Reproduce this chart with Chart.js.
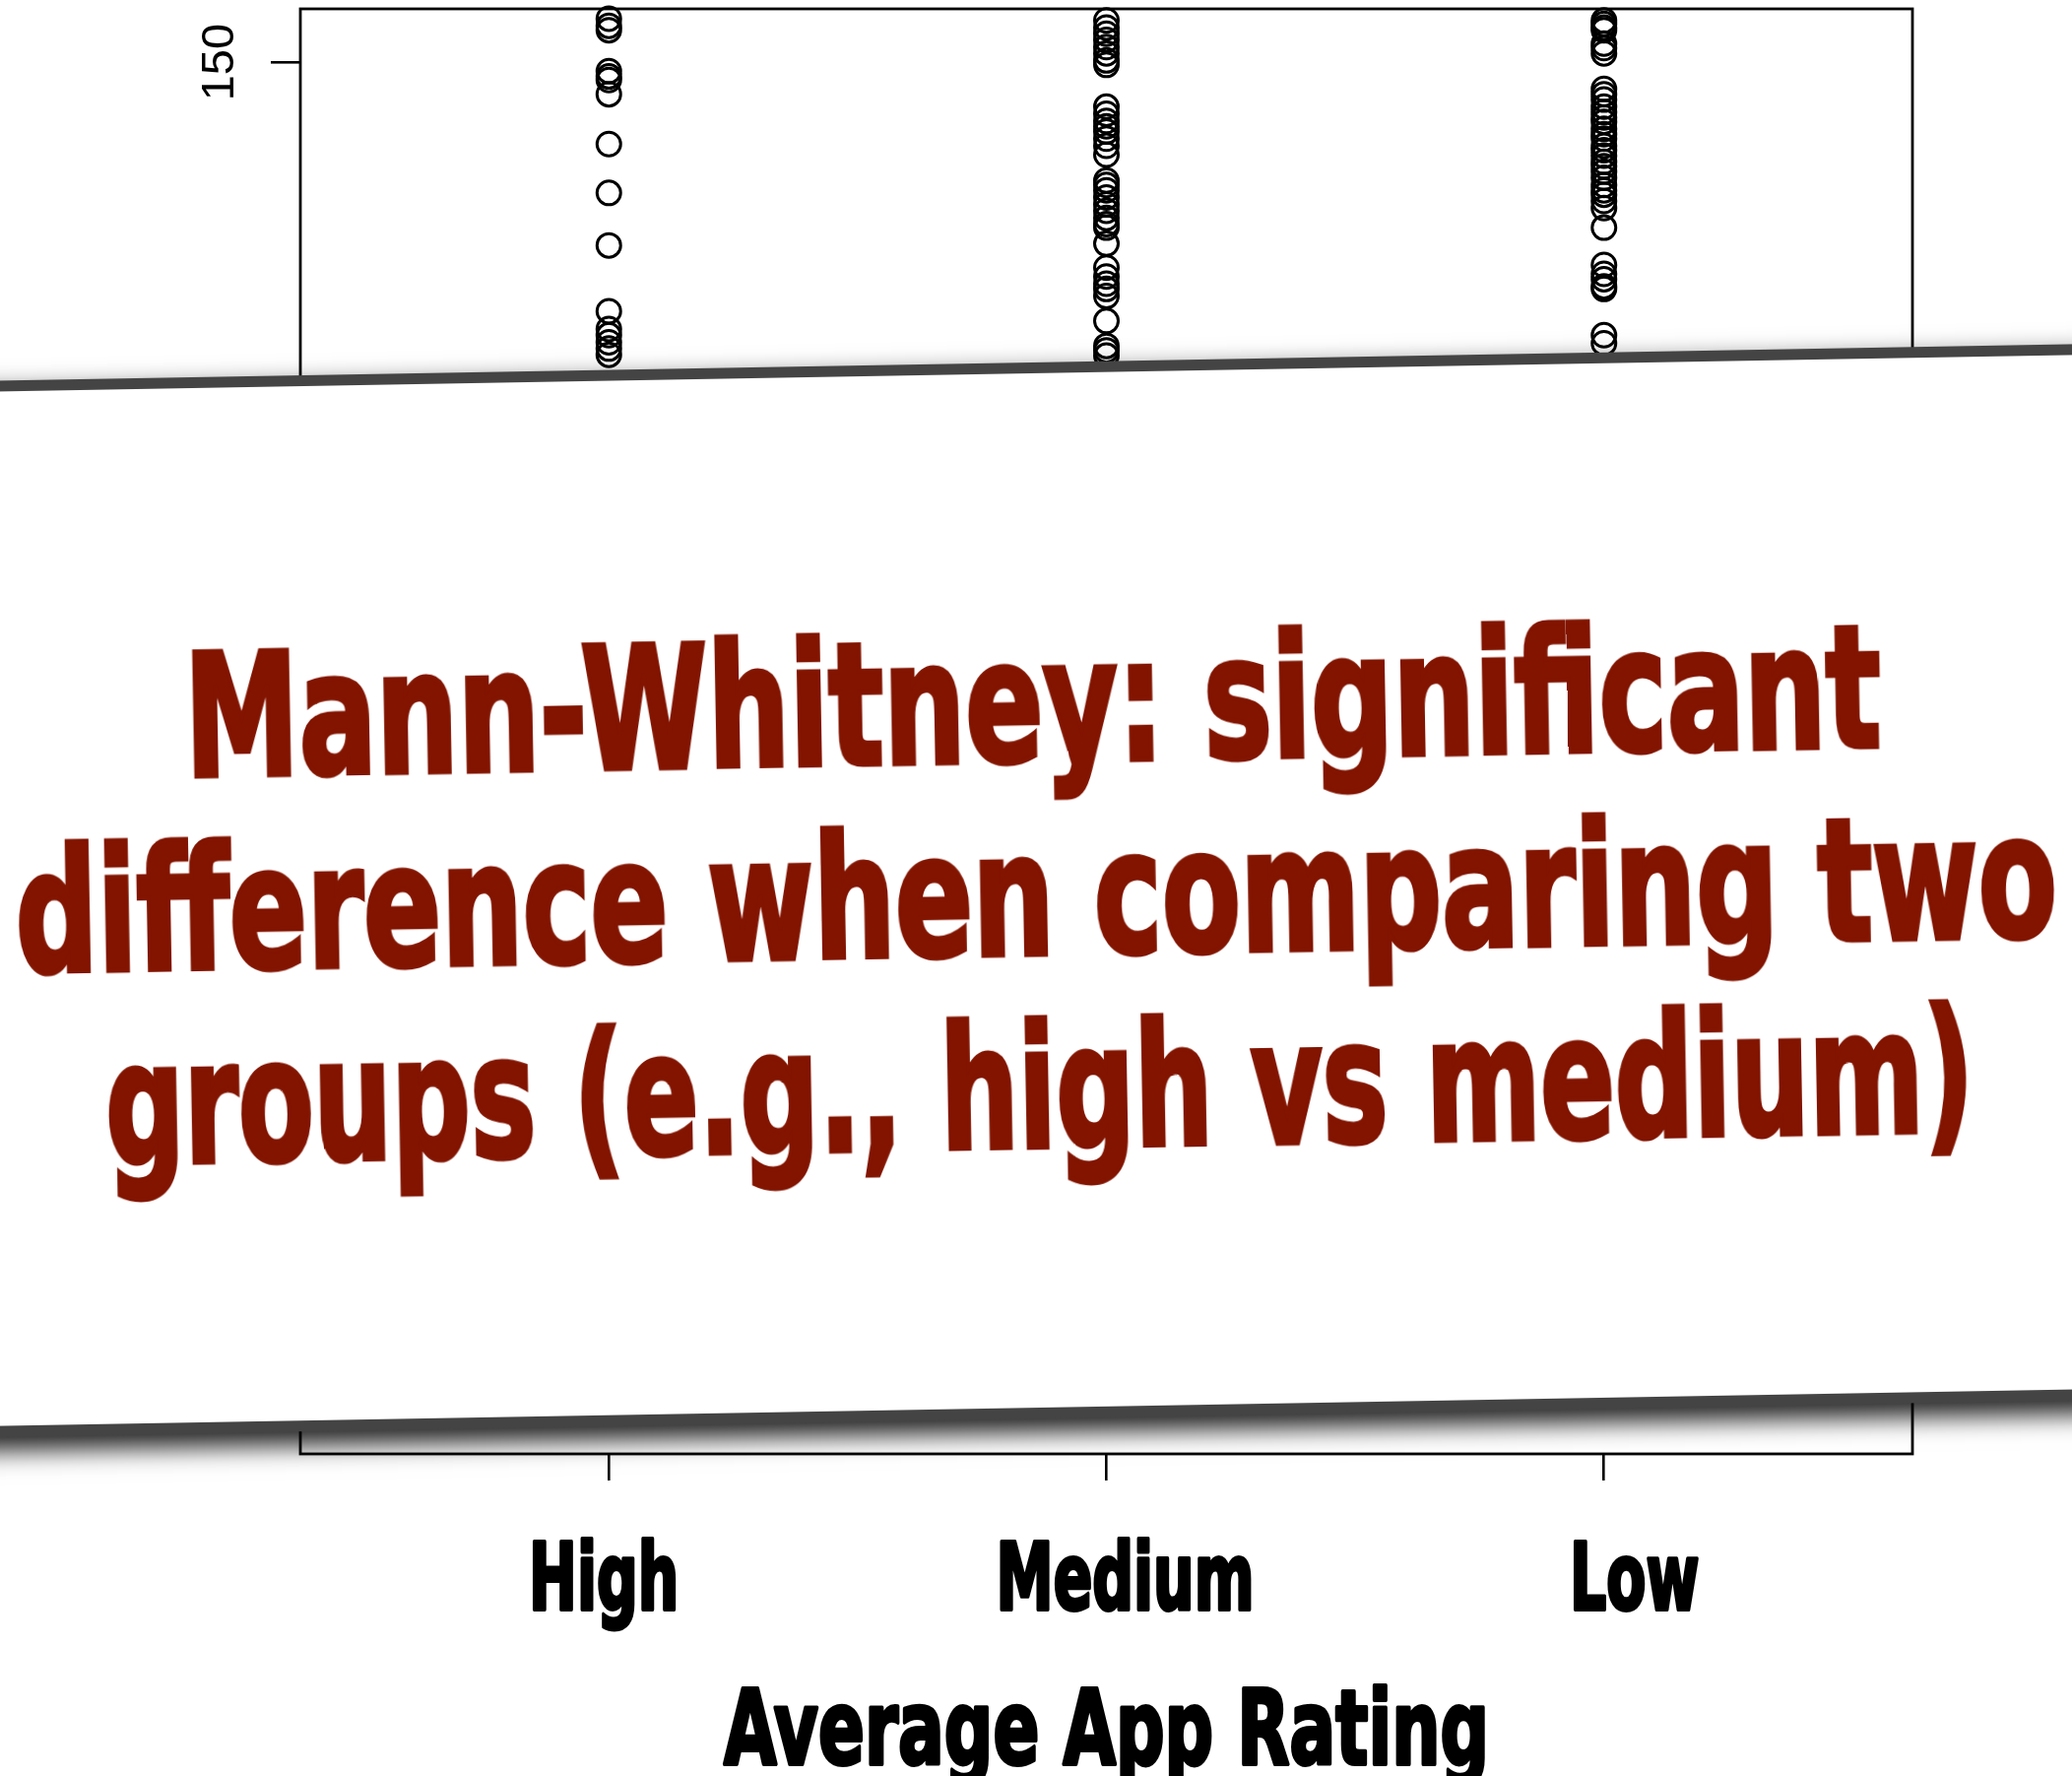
<!DOCTYPE html>
<html>
<head>
<meta charset="utf-8">
<script src="https://cdn.jsdelivr.net/npm/chart.js@4.4.1/dist/chart.umd.min.js"></script>
<style>
  html, body { margin: 0; padding: 0; overflow: hidden; background: #fff; }
  #wrap { position: relative; width: 2104px; height: 1803px; overflow: hidden; }
  #chart { position: absolute; left: 0; top: -6px; }
  #banner {
    position: absolute; left: -148px; top: 367.5px; width: 2400px; height: 1072px;
    box-sizing: border-box; background: #fff;
    border-top: 11px solid #444; border-bottom: 11px solid #444;
    transform: rotate(-1.008deg);
    box-shadow: 0 14px 24px rgba(0,0,0,.85), 0 -4px 22px rgba(0,0,0,.08);
  }
  .ln {
    position: absolute; left: 50%; white-space: nowrap;
    font: bold 173px/1 "Liberation Sans Narrow", "DejaVu Sans Condensed", sans-serif;
    color: #821400; -webkit-text-stroke: 5px #821400;
    transform-origin: 50% 50%;
  }
</style>
</head>
<body>
<div id="wrap">
  <canvas id="chart" width="2104" height="1809"></canvas>
  <div id="banner"></div>
</div>
<script>
// ── Datos ────────────────────────────────────────────
const groups = ['High', 'Medium', 'Low'];
const xTitle = 'Average App Rating';
const yTicks = [0, 50, 100, 150];

const highVals = [154.9, 154.1, 153.6, 149.0, 148.4, 148.0, 146.4, 140.8, 135.3, 129.4,
  122.0, 120.0, 119.3, 118.5, 117.8, 117.1];
const mediumVals = [154.7, 153.9, 153.2, 152.5, 151.7, 151.0, 150.2, 149.7,
  145.0, 144.2, 143.4, 142.8, 142.2, 141.4, 140.6, 139.6,
  136.7, 136.2, 135.6, 134.8, 134.0, 133.3, 132.5, 131.8, 131.4,
  129.6, 126.9, 125.9, 125.1, 124.5, 123.7, 120.9, 118.1, 117.6, 117.0];
const lowVals = [154.7, 154.3, 153.9, 153.6, 152.1, 151.6, 151.0,
  147.0, 146.4, 145.8, 145.0, 144.4, 143.8, 143.3, 142.5, 141.9, 141.4, 140.6, 140.1,
  139.5, 138.8, 138.3, 137.7, 137.0, 136.2, 135.6, 135.1, 134.4, 133.6,
  131.4, 127.2, 126.2, 125.6, 124.8, 124.5, 119.3, 118.4];

const bannerLines = ['Mann-Whitney: significant', 'difference when comparing two', 'groups (e.g., high vs medium)'];

// ── Banner ───────────────────────────────────────────
const bannerTops = [248, 444, 640];
const bannerWidths = [1722, 2073, 1897];
const banner = document.getElementById('banner');
bannerLines.forEach((t, i) => {
  const el = document.createElement('div');
  el.className = 'ln';
  el.textContent = t;
  el.style.top = bannerTops[i] + 'px';
  banner.appendChild(el);
  const s = bannerWidths[i] / el.offsetWidth;
  el.style.transform = `translateX(-50%) scaleX(${s})`;
});

// ── Texto de ejes ────────────────────────────────────
const labelShift = [-5, 19, 31];   // las etiquetas del original no quedan centradas en el tick
const heavyFont = size => `bold ${size}px "Liberation Sans Narrow", "DejaVu Sans Condensed", sans-serif`;

function heavyText(ctx, txt, cx, base, size, sx) {
  ctx.save();
  ctx.font = heavyFont(size);
  ctx.translate(cx, base);
  ctx.scale(sx, 1);
  ctx.textAlign = 'center';
  ctx.textBaseline = 'alphabetic';
  ctx.lineWidth = 4;
  ctx.lineJoin = 'round';
  ctx.strokeStyle = '#000';
  ctx.fillStyle = '#000';
  ctx.strokeText(txt, 0, 0);
  ctx.fillText(txt, 0, 0);
  ctx.restore();
}

const frameAndText = {
  id: 'frameAndText',
  afterDraw(chart) {
    const { ctx, chartArea: a, scales: { x, y } } = chart;
    ctx.save();
    ctx.strokeStyle = '#000';
    ctx.lineWidth = 2.8;
    ctx.strokeRect(a.left, a.top, a.right - a.left, a.bottom - a.top);

    // etiquetas eje y (rotadas)
    ctx.font = '47px "Liberation Sans", Arial, sans-serif';
    ctx.fillStyle = '#000';
    ctx.textAlign = 'center';
    ctx.textBaseline = 'alphabetic';
    yTicks.forEach(v => {
      ctx.save();
      ctx.translate(a.left - 68, y.getPixelForValue(v));
      ctx.rotate(-Math.PI / 2);
      ctx.fillText(String(v), 0, 0);
      ctx.restore();
    });

    // etiquetas eje x
    ctx.font = heavyFont(94);
    const sx = 262 / ctx.measureText('Medium').width;
    groups.forEach((g, i) => heavyText(ctx, g, x.getPixelForValue(i + 1) + labelShift[i], a.bottom + 158, 94, sx));

    ctx.font = heavyFont(106);
    const st = 777 / ctx.measureText(xTitle).width;
    heavyText(ctx, xTitle, (a.left + a.right) / 2, a.bottom + 315, 106, st);
    ctx.restore();
  }
};

// ── Gráfico ──────────────────────────────────────────
const series = [highVals, mediumVals, lowVals];

new Chart(document.getElementById('chart'), {
  type: 'scatter',
  data: {
    datasets: series.map((vals, i) => ({
      label: groups[i],
      data: vals.map(v => ({ x: i + 1, y: v })),
      clip: false
    }))
  },
  options: {
    responsive: false, animation: false, devicePixelRatio: 1,
    layout: { padding: { left: 0, right: 162, top: 8, bottom: 0 } },
    elements: {
      point: { pointStyle: 'circle', radius: 12, borderWidth: 3, borderColor: '#000', backgroundColor: 'rgba(0,0,0,0)' }
    },
    plugins: { legend: { display: false }, tooltip: { enabled: false } },
    scales: {
      x: {
        type: 'linear', min: 0.38, max: 3.62,
        afterFit: s => { s.height = 327; },
        ticks: { display: false, stepSize: 1, includeBounds: false },
        grid: { drawOnChartArea: false, drawTicks: true, tickLength: 27, color: '#000', lineWidth: 2.6 },
        border: { display: false }
      },
      y: {
        min: -6.5, max: 156,
        afterFit: s => { s.width = 305; },
        ticks: { display: false, stepSize: 50, includeBounds: false },
        grid: { drawOnChartArea: false, drawTicks: true, tickLength: 30, color: '#000', lineWidth: 2.6 },
        border: { display: false }
      }
    }
  },
  plugins: [frameAndText]
});
</script>
</body>
</html>
